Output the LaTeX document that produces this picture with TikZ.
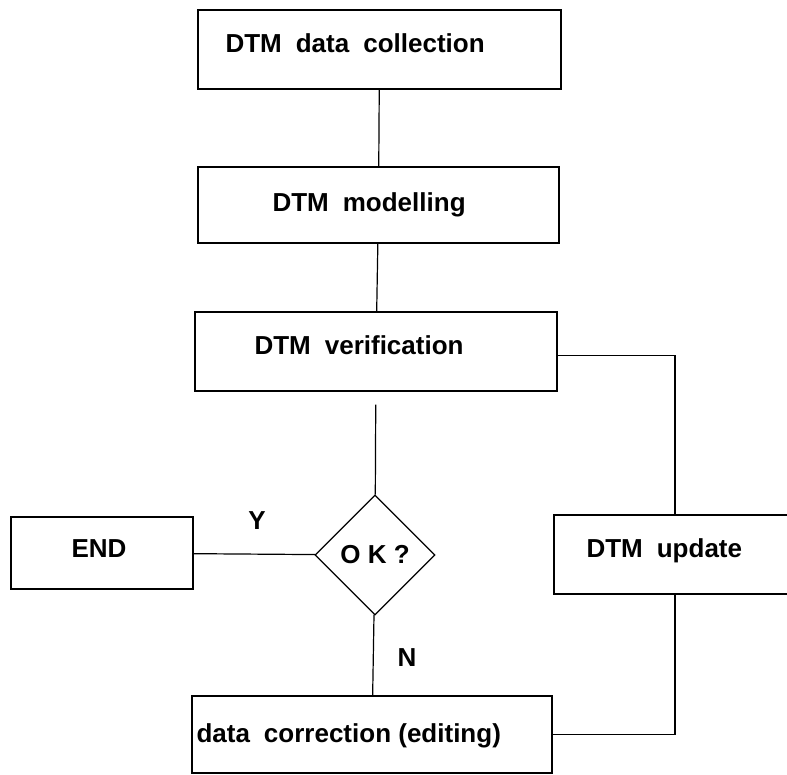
\documentclass[tikz,border=0pt]{standalone}
\usepackage{fontspec}
\setmainfont{Liberation Sans}
\usetikzlibrary{shapes.geometric,positioning}

\tikzset{
  stepbox/.style={draw,line width=1.3pt,rectangle,inner sep=0pt},
  steptext/.style={inner sep=0pt,font=\fontsize{26}{30}\selectfont\bfseries},
  link/.style={line width=1.2pt}
}
\newcommand{\gap}{\hspace{14pt}}

\begin{document}
\begin{tikzpicture}[x=1pt,y=-1pt]
    \useasboundingbox (0,0) rectangle (787,774);
    \clip (0,0) rectangle (787,774);

    % Main chain of boxes
    \node[stepbox,minimum width=363pt,minimum height=79pt] (collect) at (379.5,49.5) {};
    \node[stepbox,minimum width=361pt,minimum height=76pt] (model) at (378.5,205) {};
    \node[stepbox,minimum width=362pt,minimum height=79pt] (verify) at (376,351.5) {};
    \node[stepbox,minimum width=360pt,minimum height=77pt] (correct) at (372,734.5) {};
    \node[stepbox,minimum width=182pt,minimum height=72pt] (finish) at (102,553) {};
    \node[stepbox,minimum width=242pt,minimum height=79pt] (update) at (675,554.5) {};
    \node[draw,line width=1.2pt,diamond,minimum width=120pt,minimum height=120pt,inner sep=0pt,
          font=\fontsize{26}{30}\selectfont\bfseries] (check) at (375,555) {O K ?};

    % Box texts
    \node[steptext,anchor=west,right=28pt of collect.west,yshift=6.5pt] (collect-t) {DTM\gap data\gap collection};
    \node[steptext,anchor=west,right=75pt of model.west] (model-t) {DTM\gap modelling};
    \node[steptext,anchor=west,right=60pt of verify.west,yshift=6.5pt] (verify-t) {DTM\gap verification};
    \node[steptext,anchor=west,right=61pt of finish.west,yshift=4pt] (finish-t) {END};
    \node[steptext,anchor=west,right=33pt of update.west,yshift=3.5pt] (update-t) {DTM\gap update};
    \node[steptext,anchor=west,right=5pt of correct.west,yshift=-1.5pt] (correct-t) {data\gap correction (editing)};

    % Branch labels
    \node[steptext] (yes) at (257,521) {Y};
    \node[steptext] (no) at (407,658) {N};

    % Connectors
    \draw[link] (collect) -- (model);
    \draw[link] (model) -- (verify);
    \draw[link,shorten <=13pt] (verify) -- (check);
    \draw[link] (check) -- (finish);
    \draw[link] (check) -- (correct);
    \draw[link] ([yshift=-4pt]verify.east) -| (update.north);
    \draw[link] (update.south) |- (correct.east);
\end{tikzpicture}
\end{document}
